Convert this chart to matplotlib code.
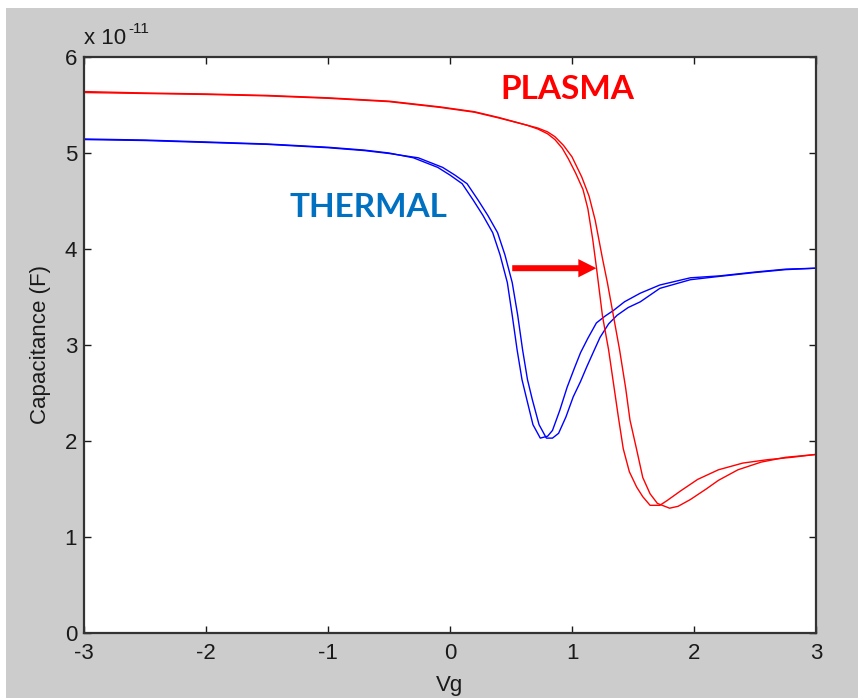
import matplotlib
matplotlib.use("Agg")
import matplotlib.pyplot as plt
from matplotlib.patches import Rectangle, FancyArrow
from matplotlib.ticker import FuncFormatter
import numpy as np

# Gate voltage (V) and capacitance (units of 1e-11 F) for the two sweep directions
thermal_fwd_vg = [-3.0, -2.5, -2.0, -1.5, -1.0, -0.7, -0.5, -0.3, -0.1, 0.0, 0.1, 0.19, 0.27, 0.35,
                  0.41, 0.47, 0.51, 0.55, 0.59, 0.63, 0.68, 0.74, 0.80, 0.84, 0.90, 0.96, 1.02,
                  1.07, 1.13, 1.20, 1.27, 1.34, 1.43, 1.56, 1.72, 1.97, 2.21, 2.50, 2.75, 3.0]
thermal_fwd_c = [5.146, 5.135, 5.115, 5.094, 5.06, 5.03, 5.00, 4.95, 4.85, 4.77, 4.68, 4.51, 4.35, 4.17,
                 3.94, 3.65, 3.31, 2.95, 2.64, 2.43, 2.17, 2.03, 2.05, 2.11, 2.32, 2.56, 2.76,
                 2.92, 3.07, 3.23, 3.30, 3.36, 3.45, 3.54, 3.625, 3.70, 3.72, 3.76, 3.79, 3.80]

thermal_rev_vg = [-3.0, -2.5, -2.0, -1.5, -1.0, -0.7, -0.5, -0.26, -0.06, 0.04, 0.14, 0.23, 0.31, 0.39,
                  0.45, 0.51, 0.555, 0.595, 0.635, 0.675, 0.73, 0.79, 0.84, 0.89, 0.95, 1.01, 1.07,
                  1.12, 1.18, 1.23, 1.30, 1.37, 1.46, 1.56, 1.72, 1.97, 2.21, 2.50, 2.75, 3.0]
thermal_rev_c = [5.14, 5.13, 5.11, 5.09, 5.055, 5.025, 4.995, 4.95, 4.85, 4.77, 4.68, 4.51, 4.35, 4.17,
                 3.94, 3.65, 3.31, 2.95, 2.64, 2.43, 2.17, 2.03, 2.03, 2.08, 2.25, 2.46, 2.62,
                 2.77, 2.94, 3.08, 3.22, 3.31, 3.39, 3.45, 3.59, 3.68, 3.715, 3.755, 3.785, 3.80]

plasma_fwd_vg = [-3.0, -2.5, -2.0, -1.5, -1.0, -0.5, -0.08, 0.2, 0.4, 0.63, 0.72, 0.80, 0.86, 0.92,
                 0.97, 1.03, 1.09, 1.13, 1.17, 1.20, 1.25, 1.30, 1.34, 1.38, 1.42, 1.47, 1.53,
                 1.58, 1.64, 1.72, 1.78, 1.89, 2.03, 2.20, 2.40, 2.60, 2.80, 3.0]
plasma_fwd_c = [5.64, 5.625, 5.615, 5.60, 5.575, 5.54, 5.48, 5.43, 5.37, 5.29, 5.25, 5.20, 5.14, 5.05,
                4.94, 4.79, 4.62, 4.42, 4.10, 3.81, 3.30, 2.95, 2.60, 2.25, 1.92, 1.68, 1.52,
                1.42, 1.33, 1.33, 1.38, 1.48, 1.60, 1.70, 1.77, 1.805, 1.83, 1.86]

plasma_rev_vg = [-3.0, -2.5, -2.0, -1.5, -1.0, -0.5, -0.08, 0.2, 0.4, 0.63, 0.72, 0.80, 0.86, 0.93,
                 1.00, 1.08, 1.14, 1.19, 1.22, 1.25, 1.29, 1.34, 1.39, 1.44, 1.475, 1.53, 1.58,
                 1.64, 1.70, 1.80, 1.87, 1.97, 2.10, 2.20, 2.36, 2.55, 2.75, 3.0]
plasma_rev_c = [5.63, 5.62, 5.61, 5.595, 5.57, 5.535, 5.475, 5.425, 5.365, 5.29, 5.26, 5.22, 5.17, 5.08,
                4.96, 4.75, 4.55, 4.30, 4.10, 3.90, 3.65, 3.30, 2.95, 2.55, 2.22, 1.91, 1.62,
                1.45, 1.35, 1.30, 1.32, 1.39, 1.50, 1.59, 1.70, 1.78, 1.83, 1.86]

CAP_UNIT = 1e-11
x_ticks = [-3, -2, -1, 0, 1, 2, 3]
y_ticks = [0, 1, 2, 3, 4, 5, 6]
shift_vg = (0.51, 1.20)   # arrow start / end voltage
shift_c = 3.80            # arrow height (1e-11 F)

W, H = 858, 698
fig = plt.figure(figsize=(W / 100, H / 100), dpi=100, facecolor="white")
# grey figure panel with a thin white border on top and left
fig.patches.append(Rectangle((6 / W, 0), 1 - 6 / W, 1 - 8 / H, transform=fig.transFigure,
                             facecolor="#cccccc", edgecolor="none", zorder=-10))

ax = fig.add_axes([84 / W, 65 / H, 732 / W, 576 / H])
ax.set_facecolor("white")

narrow_font = ["Liberation Sans Narrow", "Liberation Sans", "DejaVu Sans"]
label_font = ["Liberation Sans", "DejaVu Sans"]
ink = "#1a1a1a"

def F(v):
    return np.asarray(v) * CAP_UNIT

ax.plot(thermal_fwd_vg, F(thermal_fwd_c), color="#0000ff", lw=1.0)
ax.plot(thermal_rev_vg, F(thermal_rev_c), color="#0000ff", lw=1.0)
ax.plot(plasma_fwd_vg, F(plasma_fwd_c), color="#ff0000", lw=1.0)
ax.plot(plasma_rev_vg, F(plasma_rev_c), color="#ff0000", lw=1.0)

ax.set_xlim(-3, 3)
ax.set_ylim(0, 6 * CAP_UNIT)
ax.set_xticks(x_ticks)
ax.set_yticks([t * CAP_UNIT for t in y_ticks])
ax.yaxis.set_major_formatter(FuncFormatter(lambda v, p: f"{v / CAP_UNIT:.0f}"))
ax.xaxis.set_major_formatter(FuncFormatter(lambda v, p: f"{v:.0f}"))
ax.tick_params(direction="in", length=5, width=1.0, top=True, right=True,
               labelsize=16, colors=ink)
ax.tick_params(axis="x", pad=7)
ax.tick_params(axis="y", pad=5)
for lab in ax.get_xticklabels():
    lab.set_family(narrow_font)
for lab in ax.get_yticklabels():
    lab.set_family(label_font)
for s in ax.spines.values():
    s.set_linewidth(1.6)
    s.set_color("#333333")

ax.set_xlabel("Vg", family=label_font, fontsize=16, labelpad=8, color=ink)
ax.set_ylabel("Capacitance (F)", family=label_font, fontsize=16, labelpad=10, color=ink)
ax.text(0.0, 1.014, "x 10", transform=ax.transAxes, ha="left", va="bottom",
        family=label_font, fontsize=16, color=ink)
ax.text(44 / 732, 1.036, "-11", transform=ax.transAxes, ha="left", va="bottom",
        family=label_font, fontsize=11, color=ink)

# voltage-shift arrow
L = shift_vg[1] - shift_vg[0]
ax.add_patch(FancyArrow(shift_vg[0], shift_c * CAP_UNIT, L, 0, width=0.0625 * CAP_UNIT,
                        head_width=0.19 * CAP_UNIT, head_length=0.148, length_includes_head=True,
                        color="#ff0000", lw=0))

ax.text(0.963, 5.56 * CAP_UNIT, "PLASMA", color="#ff0000", fontsize=24, fontweight="bold",
        family="Lato", ha="center", va="baseline")
ax.text(-0.668, 4.33 * CAP_UNIT, "THERMAL", color="#0070c0", fontsize=24, fontweight="bold",
        family="Lato", ha="center", va="baseline")

fig.savefig("out.png", dpi=100, facecolor=fig.get_facecolor())
